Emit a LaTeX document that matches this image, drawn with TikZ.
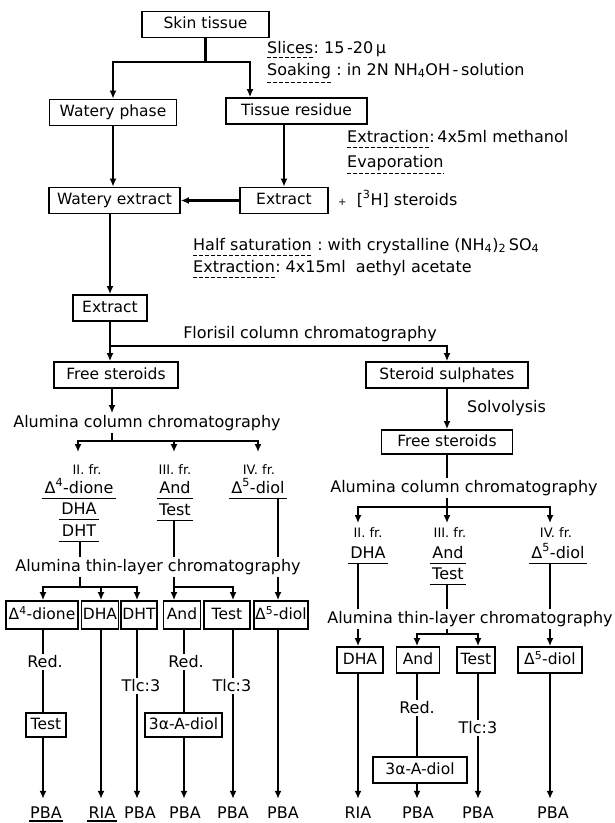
\documentclass[tikz,border=0pt]{standalone}
\usepackage{fontspec}
\setmainfont{DejaVu Sans}
\usetikzlibrary{arrows.meta}
\newcommand\fsA{\fontsize{16}{19}\selectfont}
\newcommand\fsB{\fontsize{15.5}{18}\selectfont}
\newcommand\fsC{\fontsize{13}{15}\selectfont}
\newcommand\fsP{\fontsize{10}{11}\selectfont}
\begin{document}
\begin{tikzpicture}[x=1pt,y=-1pt,
 box/.style={draw,line width=1.7pt,inner xsep=1.5pt,inner ysep=0pt,minimum height=26pt,font=\fsB,text height=11.5pt,text depth=3pt},
 conn/.style={line width=2.3pt},
 arrw/.style={line width=2.3pt,-{Latex[length=8pt,width=7pt]}},
 txt/.style={inner xsep=0pt,inner ysep=2pt,font=\fsA},
 frc/.style={inner xsep=2.5pt,inner ysep=1pt,font=\fsA,text height=12pt,text depth=4pt},
 frn/.style={inner xsep=0pt,inner ysep=5pt,font=\fsC,text height=9.5pt,text depth=0pt},
 lbl/.style={inner xsep=1pt,inner ysep=7pt,font=\fsA,text height=12pt,text depth=0pt},
 dul/.style={line width=0.9pt,dash pattern=on 3.5pt off 2.5pt},
 uline/.style={line width=1.4pt}]
\fill[white] (0,0) rectangle (615,823);
\useasboundingbox (0,0) rectangle (615,823);
% column coordinates
\coordinate (xt) at (250,0);
\coordinate (xa) at (78,0);  \coordinate (xb) at (174,0); \coordinate (xc) at (258,0);
\coordinate (xA) at (43,0);  \coordinate (xB) at (101,0); \coordinate (xC) at (137,0);
\coordinate (xD) at (184,0); \coordinate (xE) at (233,0); \coordinate (xF) at (278,0);
\coordinate (xG) at (358,0); \coordinate (xH) at (417,0); \coordinate (xI) at (478,0);
\coordinate (xJ) at (550,0);
% ---------- top ----------
\node[box,minimum width=127pt] (skin) at (205.5,24.5) {Skin tissue};
\node[box,minimum width=127pt] (wph) at (113,112.5) {Watery phase};
\node[box,minimum width=141pt] (tres) at (296.5,111) {Tissue residue};
\coordinate (b1) at (205.5,62);
\draw[conn] (skin.south) -- (b1);
\draw[arrw] (b1) -| (wph.north);
\draw[arrw] (b1) -| (xt |- tres.north);
\node[txt,anchor=base west] (sl) at (267,53) {Slices};
\node[txt,anchor=base west] at (sl.base east) {:\ 15\,-20\,μ};
\draw[dul] ([yshift=-4pt]sl.base west) -- ([yshift=-4pt]sl.base east);
\node[txt,anchor=base west] (so) at (267,75) {Soaking};
\node[txt,anchor=base west] at (so.base east) {\ :\ in 2N NH\textsubscript{4}OH\,-\,solution};
\draw[dul] ([yshift=-7pt]so.base west) -- ([yshift=-7pt]so.base east);
\node[box,minimum width=131pt] (wext) at (114.5,200.5) {Watery extract};
\node[box,minimum width=88pt] (ext1) at (284,200.5) {Extract};
\draw[arrw] (tres.south -| ext1.north) -- (ext1.north);
\draw[arrw] (ext1.west) -- (wext.east);
\draw[arrw] (wph.south) -- (wph.south |- wext.north);
\node[txt,anchor=base west] (ex1) at (347,142) {Extraction};
\node[txt,anchor=base west] at (ex1.base east) {:\,4x5ml methanol};
\draw[dul] ([yshift=-5pt]ex1.base west) -- ([yshift=-5pt]ex1.base east);
\node[txt,anchor=base west] (ev) at (347,167) {Evaporation};
\draw[dul] ([yshift=-6pt]ev.base west) -- ([yshift=-6pt]ev.base east);
\node[txt,anchor=base west] (h3) at (338,205) {{\fsP+}\ \ [\textsuperscript{3}H] steroids};
% ---------- middle ----------
\node[box,minimum width=74pt] (ext2) at (110,308) {Extract};
\draw[arrw] (wext.south -| ext2.north) -- (ext2.north);
\node[txt,anchor=base west] (hs) at (193,250) {Half saturation};
\node[txt,anchor=base west] at (hs.base east) {\ :\ with crystalline (NH\textsubscript{4})\textsubscript{2}\,SO\textsubscript{4}};
\draw[dul] ([yshift=-5pt]hs.base west) -- ([yshift=-5pt]hs.base east);
\node[txt,anchor=base west] (ex2) at (193,272) {Extraction};
\node[txt,anchor=base west] at (ex2.base east) {:\ 4x15ml\ \ aethyl acetate};
\draw[dul] ([yshift=-5pt]ex2.base west) -- ([yshift=-5pt]ex2.base east);
\node[txt] (flor) at (310,334) {Florisil column chromatography};
\node[box,minimum width=124pt] (fsL) at (116,375) {Free steroids};
\node[box,minimum width=162pt] (ssR) at (447,375) {Steroid sulphates};
\coordinate (b2) at (110,346);
\draw[arrw] (ext2.south) -- (ext2.south |- fsL.north);
\draw[arrw] (b2) -| (ssR.north);
% ---------- right column ----------
\node[txt,anchor=base west] (solv) at (467,412) {Solvolysis};
\node[box,minimum width=131pt,minimum height=24pt] (fsR) at (447,442) {Free steroids};
\draw[arrw] (ssR.south) -- (fsR.north);
\node[txt] (acR) at (464,488) {Alumina column chromatography};
\coordinate (b4) at (447,507);
\draw[conn] (fsR.south) -- (fsR.south |- acR.north);
\draw[conn] (b4 |- acR.south) -- (b4);
\node[frn] (f2R) at (368,533) {II. fr.};
\node[frn] (f3R) at (450,533) {III. fr.};
\node[frn] (f4R) at (556,533) {IV. fr.};
\draw[arrw] (b4) -| (xG |- f2R.north);
\draw[arrw] (b4) -- (b4 |- f3R.north);
\draw[arrw] (b4) -| (xJ |- f4R.north);
\node[frc] (dhaR1) at (368,554) {DHA};
\node[frc] (andR1) at (448,554) {And};
\node[frc] (testR1) at (448,575) {Test};
\node[frc] (d5R1) at (558,554) {Δ\textsuperscript{5}-diol};
\foreach \n in {dhaR1,andR1,testR1,d5R1}
  \draw[uline] (\n.south west) -- (\n.south east);
\node[txt] (tlR) at (470,619) {Alumina thin-layer chromatography};
\node[box,minimum width=46pt] (dhaR) at (360,660) {DHA};
\node[box,minimum width=43pt] (andR) at (418,660) {And};
\node[box,minimum width=38pt] (testR) at (476,660) {Test};
\node[box,minimum width=64pt] (d5R) at (550,660) {Δ\textsuperscript{5}-diol};
\draw[conn] (xG |- dhaR1.south) -- (xG |- tlR.north);
\draw[arrw] (xG |- tlR.south) -- (xG |- dhaR.north);
\coordinate (b7) at (447,634);
\draw[conn] (b7 |- testR1.south) -- (b7 |- tlR.north);
\draw[conn] (b7 |- tlR.south) -- (b7);
\draw[arrw] (b7) -| (xH |- andR.north);
\draw[arrw] (b7) -| (xI |- testR.north);
\draw[conn] (xJ |- d5R1.south) -- (xJ |- tlR.north);
\draw[arrw] (xJ |- tlR.south) -- (xJ |- d5R.north);
\node[txt] (redR) at (417,708) {Red.};
\node[txt] (tlcR) at (478,728) {Tlc:3};
\node[box,minimum width=94pt] (aodR) at (420,770) {3α-A-diol};
\node[lbl,anchor=base] (riaR) at (358,818) {RIA};
\node[lbl,anchor=base] (pbaR1) at (418,818) {PBA};
\node[lbl,anchor=base] (pbaR2) at (478,818) {PBA};
\node[lbl,anchor=base] (pbaR3) at (553,818) {PBA};
\draw[arrw] (xG |- dhaR.south) -- (xG |- riaR.north);
\draw[conn] (xH |- andR.south) -- (xH |- redR.north);
\draw[conn] (xH |- redR.south) -- (xH |- aodR.north);
\draw[arrw] (xH |- aodR.south) -- (xH |- pbaR1.north);
\draw[conn] (xI |- testR.south) -- (xI |- tlcR.north);
\draw[arrw] (xI |- tlcR.south) -- (xI |- pbaR2.north);
\draw[arrw] (xJ |- d5R.south) -- (xJ |- pbaR3.north);
% ---------- left column ----------
\node[txt] (acL) at (147,423) {Alumina column chromatography};
\coordinate (b3) at (112,441);
\draw[arrw] (fsL.south -| b3) -- (b3 |- acL.north);
\draw[conn] (b3 |- acL.south) -- (b3);
\node[frn,inner ysep=13pt] (f2L) at (87,470) {II. fr.};
\node[frn,inner ysep=13pt] (f3L) at (175,470) {III. fr.};
\node[frn,inner ysep=13pt] (f4L) at (259,470) {IV. fr.};
\draw[arrw] (b3) -| (xa |- f2L.north);
\draw[arrw] (b3) -| (xb |- f3L.north);
\draw[arrw] (b3) -| (xc |- f4L.north);
\node[frc] (d4L1) at (79,489) {Δ\textsuperscript{4}-dione};
\node[frc] (dhaL1) at (79,510) {DHA};
\node[frc] (dhtL1) at (79,532) {DHT};
\node[frc] (andL1) at (175,489) {And};
\node[frc] (testL1) at (175,511) {Test};
\node[frc] (d5L1) at (258,489) {Δ\textsuperscript{5}-diol};
\foreach \n in {d4L1,dhaL1,dhtL1,andL1,testL1,d5L1}
  \draw[uline] (\n.south west) -- (\n.south east);
\node[txt] (tlL) at (158,567) {Alumina thin-layer chromatography};
\node[box,minimum width=72pt,minimum height=28pt] (d4L) at (42,615) {Δ\textsuperscript{4}-dione};
\node[box,minimum width=37pt,minimum height=28pt] (dhaL) at (100,615) {DHA};
\node[box,minimum width=34pt,minimum height=28pt] (dhtL) at (139,615) {DHT};
\node[box,minimum width=37pt,minimum height=28pt] (andL) at (182,615) {And};
\node[box,minimum width=46pt,minimum height=28pt] (testL) at (227,615) {Test};
\node[box,minimum width=54pt,minimum height=28pt] (d5L) at (281,615) {Δ\textsuperscript{5}-diol};
\coordinate (b5) at (80,587);
\draw[conn] (b5 |- dhtL1.south) -- (b5 |- tlL.north);
\draw[conn] (b5 |- tlL.south) -- (b5);
\draw[arrw] (b5) -| (xA |- d4L.north);
\draw[arrw] (b5) -| (xB |- dhaL.north);
\draw[arrw] (b5) -| (xC |- dhtL.north);
\coordinate (b6) at (174,587);
\draw[conn] (b6 |- testL1.south) -- (b6 |- tlL.north);
\draw[conn] (b6 |- tlL.south) -- (b6);
\draw[arrw] (b6) -- (b6 |- andL.north);
\draw[arrw] (b6) -| (xE |- testL.north);
\draw[conn] (xF |- d5L1.south) -- (xF |- tlL.north);
\draw[arrw] (xF |- tlL.south) -- (xF |- d5L.north);
\node[txt] (redL1) at (45,662) {Red.};
\node[box,minimum width=40pt,minimum height=24pt] (testL2) at (46,725) {Test};
\node[txt] (tlcL1) at (141,686) {Tlc:3};
\node[txt] (redL2) at (186,662) {Red.};
\node[txt] (tlcL2) at (232,686) {Tlc:3};
\node[box,minimum width=77pt,minimum height=24pt] (aodL) at (183.5,725) {3α-A-diol};
\node[lbl,anchor=base] (pbaL1) at (46,818) {PBA};
\node[lbl,anchor=base] (riaL) at (102,818) {RIA};
\node[lbl,anchor=base] (pbaL2) at (140,818) {PBA};
\node[lbl,anchor=base] (pbaL3) at (185,818) {PBA};
\node[lbl,anchor=base] (pbaL4) at (233,818) {PBA};
\node[lbl,anchor=base] (pbaL5) at (283,818) {PBA};
\draw[uline] ([yshift=-3pt]pbaL1.base west) -- ([yshift=-3pt]pbaL1.base east);
\draw[uline] ([yshift=-3pt]riaL.base west) -- ([yshift=-3pt]riaL.base east);
\draw[conn] (xA |- d4L.south) -- (xA |- redL1.north);
\draw[conn] (xA |- redL1.south) -- (xA |- testL2.north);
\draw[arrw] (xA |- testL2.south) -- (xA |- pbaL1.north);
\draw[arrw] (xB |- dhaL.south) -- (xB |- riaL.north);
\draw[conn] (xC |- dhtL.south) -- (xC |- tlcL1.north);
\draw[arrw] (xC |- tlcL1.south) -- (xC |- pbaL2.north);
\draw[conn] (xD |- andL.south) -- (xD |- redL2.north);
\draw[conn] (xD |- redL2.south) -- (xD |- aodL.north);
\draw[arrw] (xD |- aodL.south) -- (xD |- pbaL3.north);
\draw[conn] (xE |- testL.south) -- (xE |- tlcL2.north);
\draw[arrw] (xE |- tlcL2.south) -- (xE |- pbaL4.north);
\draw[arrw] (xF |- d5L.south) -- (xF |- pbaL5.north);
\end{tikzpicture}
\end{document}
